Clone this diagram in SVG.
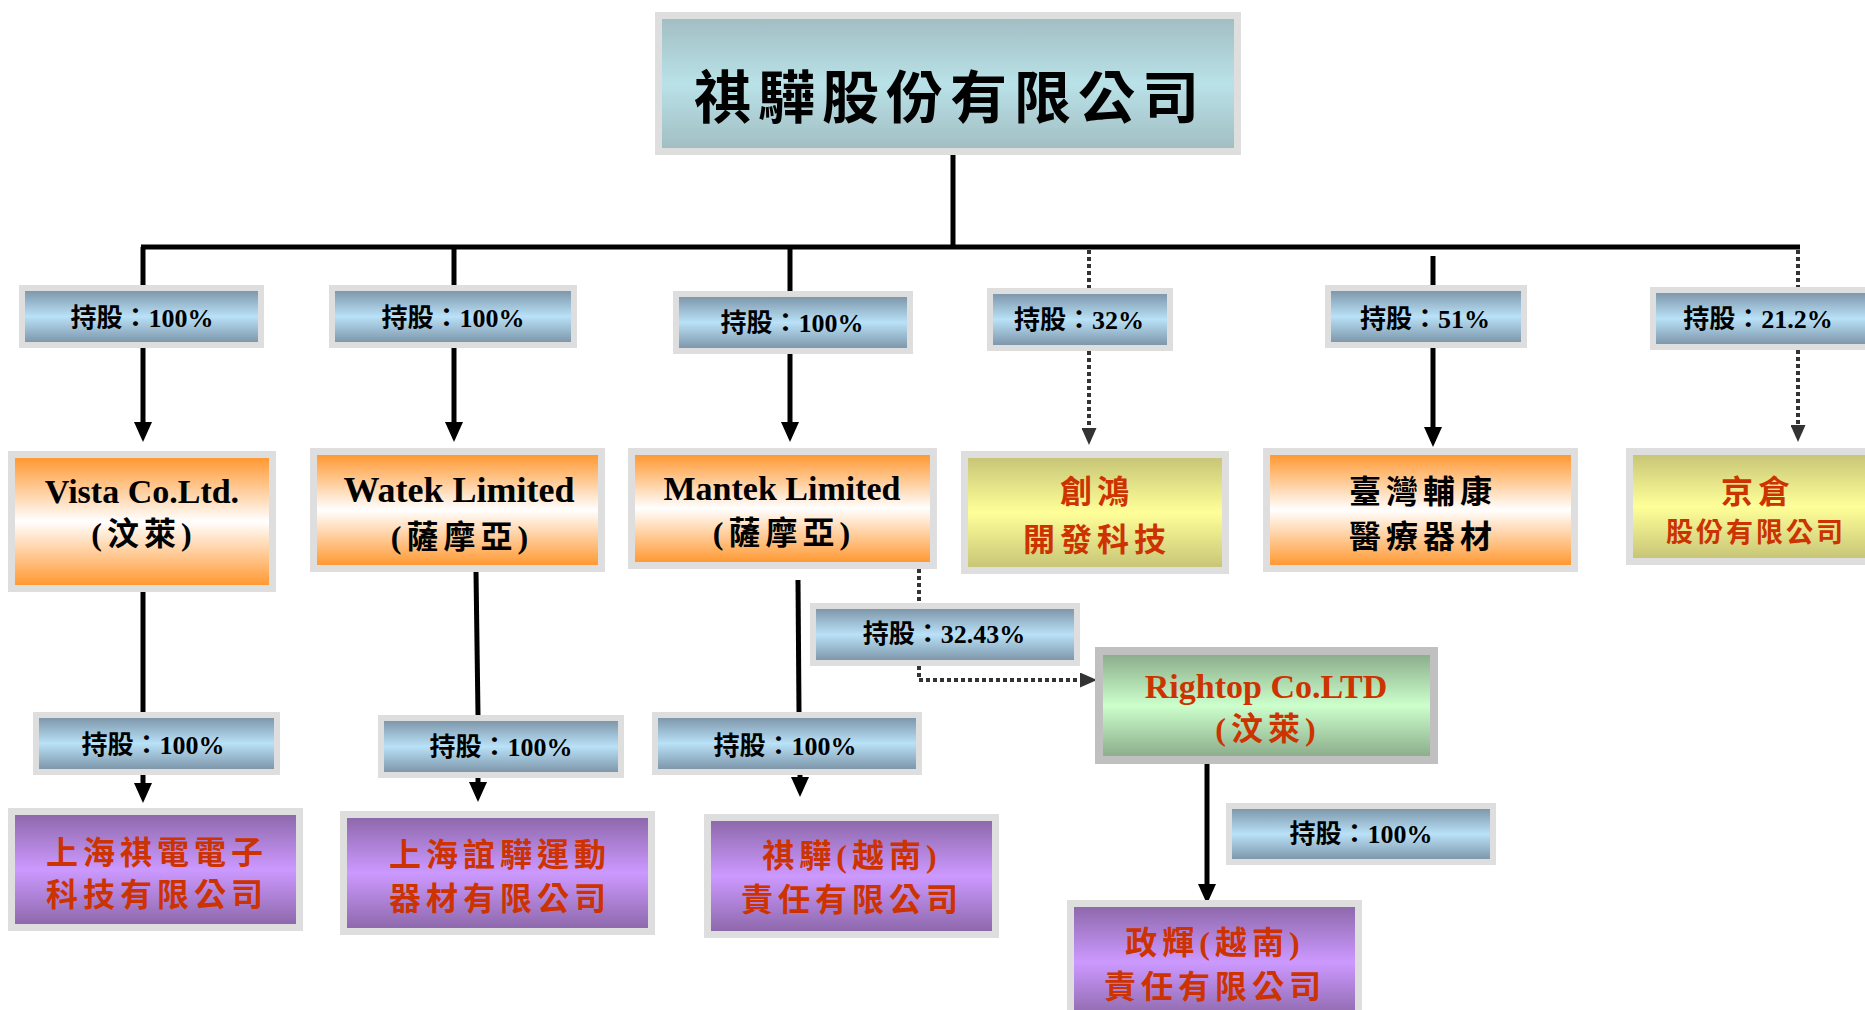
<svg xmlns="http://www.w3.org/2000/svg" width="1865" height="1010" viewBox="0 0 1865 1010">
<style>
.frame{fill:#dedede}
.frame2{fill:#c0c0c0}
.lbl{font-family:"Liberation Serif","Noto Sans CJK TC",serif;font-weight:700;font-size:26px;fill:#000;text-anchor:middle}
.en{font-family:"Liberation Serif","Noto Sans CJK TC",serif;font-weight:700;text-anchor:middle}
.cjk{font-family:"Liberation Serif","Noto Sans CJK TC",serif;font-weight:700;font-size:32px;letter-spacing:5px;text-anchor:middle}
.blk{fill:#000}
.red{fill:#cc3300}
.solid{stroke:#000;stroke-width:5;fill:none}
.dot{stroke:#333;stroke-width:4;stroke-dasharray:4 3;fill:none}
</style>
<defs>
<linearGradient id="gLbl" x1="0" y1="0" x2="0" y2="1"><stop offset="0" stop-color="#7e97ab"/><stop offset="0.5" stop-color="#b9e1f7"/><stop offset="1" stop-color="#7e97ab"/></linearGradient>
<linearGradient id="gTop" x1="0" y1="0" x2="0" y2="1"><stop offset="0" stop-color="#a2bec3"/><stop offset="0.5" stop-color="#b9e2e8"/><stop offset="1" stop-color="#a2bec3"/></linearGradient>
<linearGradient id="gOr" x1="0" y1="0" x2="0" y2="1"><stop offset="0" stop-color="#ff9933"/><stop offset="0.5" stop-color="#ffffff"/><stop offset="1" stop-color="#ff9933"/></linearGradient>
<linearGradient id="gYe" x1="0" y1="0" x2="0" y2="1"><stop offset="0" stop-color="#c8c677"/><stop offset="0.5" stop-color="#ffff99"/><stop offset="1" stop-color="#c8c677"/></linearGradient>
<linearGradient id="gPu" x1="0" y1="0" x2="0" y2="1"><stop offset="0" stop-color="#8e69ac"/><stop offset="0.5" stop-color="#cc99ff"/><stop offset="1" stop-color="#8e69ac"/></linearGradient>
<linearGradient id="gGr" x1="0" y1="0" x2="0" y2="1"><stop offset="0" stop-color="#8cae8c"/><stop offset="0.5" stop-color="#ccffcc"/><stop offset="1" stop-color="#8cae8c"/></linearGradient>
<marker id="ah" markerUnits="userSpaceOnUse" markerWidth="20" markerHeight="18" viewBox="0 0 20 18" refX="14" refY="9" orient="auto"><path d="M0,0 L20,9 L0,18 z" fill="#000"/></marker>
<marker id="ahd" markerUnits="userSpaceOnUse" markerWidth="17" markerHeight="15" viewBox="0 0 17 15" refX="12" refY="7.5" orient="auto"><path d="M0,0 L17,7.5 L0,15 z" fill="#333"/></marker>
</defs>

<g id="connectors">
<line class="solid" x1="953" y1="155" x2="953" y2="247"/>
<line class="solid" x1="141" y1="247" x2="1800" y2="247"/>
<line class="solid" x1="143" y1="247" x2="143" y2="285"/>
<line class="solid" x1="143" y1="348" x2="143" y2="436" marker-end="url(#ah)"/>
<line class="solid" x1="454" y1="247" x2="454" y2="285"/>
<line class="solid" x1="454" y1="348" x2="454" y2="436" marker-end="url(#ah)"/>
<line class="solid" x1="790" y1="247" x2="790" y2="291"/>
<line class="solid" x1="790" y1="354" x2="790" y2="436" marker-end="url(#ah)"/>
<line class="dot" x1="1089" y1="250" x2="1089" y2="288"/>
<line class="dot" x1="1089" y1="351" x2="1089" y2="440" marker-end="url(#ahd)"/>
<line class="solid" x1="1433" y1="256" x2="1433" y2="285"/>
<line class="solid" x1="1433" y1="348" x2="1433" y2="441" marker-end="url(#ah)"/>
<line class="dot" x1="1798" y1="250" x2="1798" y2="287"/>
<line class="dot" x1="1798" y1="350" x2="1798" y2="437" marker-end="url(#ahd)"/>
<line class="solid" x1="143" y1="592" x2="143" y2="712"/>
<line class="solid" x1="143" y1="775" x2="143" y2="797" marker-end="url(#ah)"/>
<line class="solid" x1="476" y1="572" x2="478" y2="715"/>
<line class="solid" x1="478" y1="778" x2="478" y2="796" marker-end="url(#ah)"/>
<line class="solid" x1="798" y1="580" x2="799" y2="712"/>
<line class="solid" x1="800" y1="775" x2="800" y2="791" marker-end="url(#ah)"/>
<line class="dot" x1="919" y1="569" x2="919" y2="603"/>
<polyline class="dot" points="919,666 919,680 1092,680" marker-end="url(#ahd)"/>
<line class="solid" x1="1207" y1="764" x2="1207" y2="898" marker-end="url(#ah)"/>
</g>

<g id="node-root">
<rect class="frame" x="655" y="12" width="586" height="143"/>
<rect x="662" y="19" width="572" height="129" fill="url(#gTop)"/>
<text x="950" y="118" font-family="'Noto Sans CJK TC',sans-serif" font-weight="700" font-size="57" letter-spacing="7" text-anchor="middle" fill="#000">祺驊股份有限公司</text>
</g>

<g id="label-vista">
<rect class="frame" x="19" y="285" width="245" height="63"/>
<rect x="25" y="291" width="233" height="51" fill="url(#gLbl)"/>
<text class="lbl" x="142" y="327">持股：100%</text>
</g>
<g id="label-watek">
<rect class="frame" x="329" y="285" width="248" height="63"/>
<rect x="335" y="291" width="236" height="51" fill="url(#gLbl)"/>
<text class="lbl" x="453" y="327">持股：100%</text>
</g>
<g id="label-mantek">
<rect class="frame" x="673" y="291" width="240" height="63"/>
<rect x="679" y="297" width="228" height="51" fill="url(#gLbl)"/>
<text class="lbl" x="792" y="332">持股：100%</text>
</g>
<g id="label-chuanghong">
<rect class="frame" x="987" y="288" width="186" height="63"/>
<rect x="993" y="294" width="174" height="51" fill="url(#gLbl)"/>
<text class="lbl" x="1079" y="329">持股：32%</text>
</g>
<g id="label-taiwan">
<rect class="frame" x="1325" y="285" width="202" height="63"/>
<rect x="1331" y="291" width="190" height="51" fill="url(#gLbl)"/>
<text class="lbl" x="1425" y="328">持股：51%</text>
</g>
<g id="label-jingcang">
<rect class="frame" x="1650" y="287" width="230" height="63"/>
<rect x="1656" y="293" width="218" height="51" fill="url(#gLbl)"/>
<text class="lbl" x="1758" y="328">持股：21.2%</text>
</g>

<g id="node-vista">
<rect class="frame" x="8" y="451" width="268" height="141"/>
<rect x="15" y="458" width="254" height="127" fill="url(#gOr)"/>
<text class="en blk" x="142" y="503" font-size="34">Vista Co.Ltd.</text>
<text class="cjk blk" x="144" y="545">(汶萊)</text>
</g>
<g id="node-watek">
<rect class="frame" x="310" y="448" width="295" height="124"/>
<rect x="317" y="455" width="281" height="110" fill="url(#gOr)"/>
<text class="en blk" x="459" y="502" font-size="36">Watek Limited</text>
<text class="cjk blk" x="462" y="548">(薩摩亞)</text>
</g>
<g id="node-mantek">
<rect class="frame" x="628" y="448" width="309" height="121"/>
<rect x="635" y="455" width="295" height="107" fill="url(#gOr)"/>
<text class="en blk" x="782" y="500" font-size="34">Mantek Limited</text>
<text class="cjk blk" x="784" y="544">(薩摩亞)</text>
</g>
<g id="node-chuanghong">
<rect class="frame" x="961" y="451" width="268" height="123"/>
<rect x="968" y="458" width="254" height="109" fill="url(#gYe)"/>
<text class="cjk red" x="1097" y="503">創鴻</text>
<text class="cjk red" x="1097" y="551">開發科技</text>
</g>
<g id="node-taiwan">
<rect class="frame" x="1263" y="448" width="315" height="124"/>
<rect x="1270" y="455" width="301" height="110" fill="url(#gOr)"/>
<text class="cjk blk" x="1423" y="503">臺灣輔康</text>
<text class="cjk blk" x="1423" y="548">醫療器材</text>
</g>
<g id="node-jingcang">
<rect class="frame" x="1626" y="448" width="260" height="117"/>
<rect x="1633" y="455" width="246" height="103" fill="url(#gYe)"/>
<text class="cjk red" x="1758" y="503">京倉</text>
<text class="cjk red" x="1756" y="542" style="font-size:27px;letter-spacing:3px">股份有限公司</text>
</g>

<g id="label-vista-sub">
<rect class="frame" x="33" y="712" width="247" height="63"/>
<rect x="39" y="718" width="235" height="51" fill="url(#gLbl)"/>
<text class="lbl" x="153" y="754">持股：100%</text>
</g>
<g id="label-watek-sub">
<rect class="frame" x="378" y="715" width="246" height="63"/>
<rect x="384" y="721" width="234" height="51" fill="url(#gLbl)"/>
<text class="lbl" x="501" y="756">持股：100%</text>
</g>
<g id="label-mantek-sub">
<rect class="frame" x="652" y="712" width="270" height="63"/>
<rect x="658" y="718" width="258" height="51" fill="url(#gLbl)"/>
<text class="lbl" x="785" y="755">持股：100%</text>
</g>
<g id="label-rightop">
<rect class="frame" x="810" y="603" width="270" height="63"/>
<rect x="816" y="609" width="258" height="51" fill="url(#gLbl)"/>
<text class="lbl" x="944" y="643">持股：32.43%</text>
</g>
<g id="label-rightop-sub">
<rect class="frame" x="1226" y="803" width="270" height="62"/>
<rect x="1232" y="809" width="258" height="50" fill="url(#gLbl)"/>
<text class="lbl" x="1361" y="843">持股：100%</text>
</g>

<g id="node-rightop">
<rect class="frame2" x="1095" y="647" width="343" height="117"/>
<rect x="1103" y="655" width="327" height="101" fill="url(#gGr)"/>
<text class="en red" x="1266" y="698" font-size="34">Rightop Co.LTD</text>
<text class="cjk red" x="1268" y="740">(汶萊)</text>
</g>
<g id="node-shanghai-qidian">
<rect class="frame" x="8" y="808" width="295" height="123"/>
<rect x="15" y="815" width="281" height="109" fill="url(#gPu)"/>
<text class="cjk red" x="157" y="864">上海祺電電子</text>
<text class="cjk red" x="157" y="906">科技有限公司</text>
</g>
<g id="node-shanghai-yiyi">
<rect class="frame" x="340" y="811" width="315" height="124"/>
<rect x="347" y="818" width="301" height="110" fill="url(#gPu)"/>
<text class="cjk red" x="500" y="866">上海誼驊運動</text>
<text class="cjk red" x="500" y="910">器材有限公司</text>
</g>
<g id="node-qiyi-vn">
<rect class="frame" x="704" y="814" width="295" height="124"/>
<rect x="711" y="821" width="281" height="110" fill="url(#gPu)"/>
<text class="cjk red" x="852" y="867">祺驊(越南)</text>
<text class="cjk red" x="852" y="911">責任有限公司</text>
</g>
<g id="node-zhenghui-vn">
<rect class="frame" x="1067" y="900" width="295" height="120"/>
<rect x="1074" y="907" width="281" height="110" fill="url(#gPu)"/>
<text class="cjk red" x="1215" y="954">政輝(越南)</text>
<text class="cjk red" x="1215" y="998">責任有限公司</text>
</g>
</svg>
